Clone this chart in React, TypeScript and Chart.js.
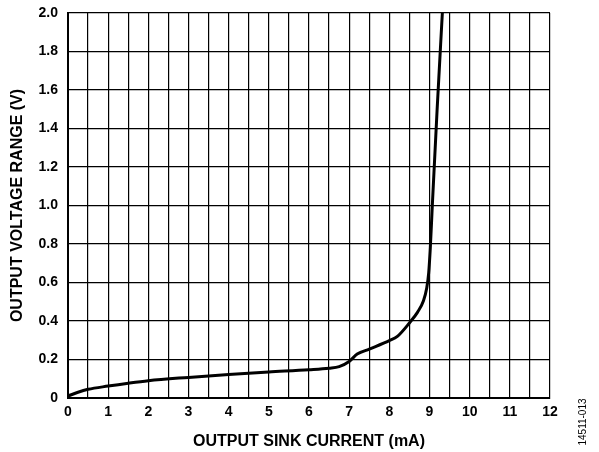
import React, { useEffect, useRef } from "react";
import { Chart, registerables } from "chart.js";

Chart.register(...registerables);

const currentMA = [0, 0.25, 0.5, 1, 1.5, 2, 3, 4, 5, 6, 6.5, 6.75, 7, 7.2, 7.5, 8, 8.2, 8.5, 8.7, 8.85, 8.93, 8.98, 9.02, 9.07, 9.19, 9.32];
const voltageV = [0.01, 0.03, 0.045, 0.062, 0.077, 0.09, 0.107, 0.122, 0.135, 0.147, 0.155, 0.163, 0.19, 0.228, 0.254, 0.298, 0.32, 0.39, 0.445, 0.505, 0.57, 0.65, 0.78, 1.0, 1.5, 2.0];

const xTitle = "OUTPUT SINK CURRENT (mA)";
const yTitle = "OUTPUT VOLTAGE RANGE (V)";
const figureId = "14511-013";

const FONT = "'Liberation Sans', Arial, sans-serif";

export default function App() {
  const ref = useRef<HTMLCanvasElement | null>(null);
  useEffect(() => {
    if (!ref.current) return;
    const idPlugin = {
      id: "figId",
      afterDraw(chart: any) {
        const ctx = chart.ctx;
        ctx.save();
        ctx.translate(583, 422);
        ctx.rotate(-Math.PI / 2);
        ctx.fillStyle = "#000";
        ctx.font = `10px ${FONT}`;
        ctx.textAlign = "center";
        ctx.textBaseline = "middle";
        ctx.fillText(figureId, 0, 0);
        ctx.restore();
      },
    };
    const chart = new Chart(ref.current, {
      type: "line",
      data: {
        datasets: [
          {
            data: currentMA.map((x, i) => ({ x, y: voltageV[i] })),
            borderColor: "#000",
            borderWidth: 3,
            pointRadius: 0,
            cubicInterpolationMode: "monotone",
            fill: false,
          },
        ],
      },
      options: {
        animation: false,
        responsive: false,
        devicePixelRatio: 1,
        layout: { padding: { left: 0, top: 13, right: 49, bottom: 0 } },
        plugins: { legend: { display: false }, tooltip: { enabled: false } },
        scales: {
          x: {
            type: "linear",
            min: 0,
            max: 12,
            afterFit(scale: any) {
              scale.height = 54;
              scale.paddingLeft = 0;
              scale.paddingRight = 0;
            },
            ticks: {
              stepSize: 0.5,
              autoSkip: false,
              maxRotation: 0,
              padding: 6,
              color: "#000",
              font: { family: FONT, size: 14, weight: "bold" },
              callback: (v: any) => (Number.isInteger(v) ? String(v) : ""),
            },
            grid: { color: "#000", lineWidth: 1.2, drawTicks: false },
            border: { color: "#000", width: 2 },
            title: {
              display: true,
              text: xTitle,
              color: "#000",
              font: { family: FONT, size: 16, weight: "bold" },
              padding: { top: 4, bottom: 1 },
            },
          },
          y: {
            type: "linear",
            min: 0,
            max: 2,
            afterFit(scale: any) {
              scale.width = 68;
              scale.paddingTop = 0;
              scale.paddingBottom = 0;
            },
            ticks: {
              stepSize: 0.2,
              padding: 10,
              color: "#000",
              font: { family: FONT, size: 14, weight: "bold" },
              callback: (v: any) => (Math.abs(v) < 1e-9 ? "0" : Number(v).toFixed(1)),
            },
            grid: { color: "#000", lineWidth: 1.2, drawTicks: false },
            border: { color: "#000", width: 2 },
            title: {
              display: true,
              text: yTitle,
              color: "#000",
              font: { family: FONT, size: 16, weight: "bold" },
              padding: { top: 8, bottom: 4 },
            },
          },
        },
      },
      plugins: [idPlugin],
    } as any);
    return () => chart.destroy();
  }, []);
  return (
    <div style={{ position: "absolute", left: 0, top: 0, width: 599, height: 452, background: "#fff" }}>
      <canvas ref={ref} width={599} height={452} style={{ width: 599, height: 452 }} />
    </div>
  );
}
